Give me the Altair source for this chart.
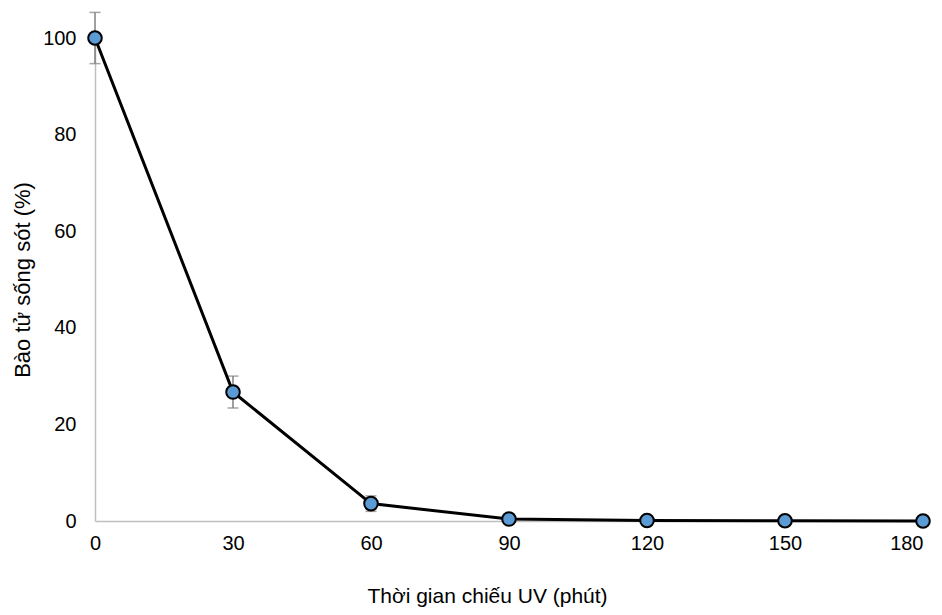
import altair as alt
import pandas as pd

minutes = [0, 30, 60, 90, 120, 150, 180]
survival = [100, 26.7, 3.6, 0.4, 0.1, 0.05, 0.0]
err = [5.3, 3.3, 1.6, 0.0, 0.0, 0.0, 0.0]

df = pd.DataFrame({"t": minutes, "s": survival, "e": err})
df["lo"] = df["s"] - df["e"]
df["hi"] = df["s"] + df["e"]
eb = df[df["e"] > 0]

FONT = "Liberation Sans"
FS = 20
x = alt.X("t:Q", scale=alt.Scale(domain=[0, 180], nice=False),
          axis=alt.Axis(values=minutes, title="Thời gian chiếu UV (phút)", grid=False, ticks=False,
                        domainColor="#bfbfbf", domainWidth=1.5, labelPadding=12, titlePadding=32,
                        titleX=392, titleAlign="center", labelFlush=False, labelOverlap=False,
                        labelAlign={"expr": "datum.value == 180 ? 'right' : 'center'"},
                        labelFontSize=FS, titleFontSize=21, labelFont=FONT, titleFont=FONT,
                        titleFontWeight="normal", labelColor="#000", titleColor="#000"))
y = alt.Y("s:Q", scale=alt.Scale(domain=[0, 100], nice=False),
          axis=alt.Axis(values=[0, 20, 40, 60, 80, 100], title="Bào tử sống sót (%)", grid=False, ticks=False,
                        domainColor="#bfbfbf", domainWidth=1.5, labelPadding=19, titlePadding=8,
                        labelFlush=False,
                        labelFontSize=FS, titleFontSize=22, labelFont=FONT, titleFont=FONT,
                        titleFontWeight="normal", labelColor="#000", titleColor="#000"))

base = alt.Chart(df)
rules = alt.Chart(eb).mark_rule(color="#7f7f7f", strokeWidth=1.5, clip=False).encode(
    x="t:Q", y="lo:Q", y2="hi:Q")
caps_hi = alt.Chart(eb).mark_tick(color="#7f7f7f", size=11, thickness=1.5, orient="horizontal", clip=False).encode(
    x="t:Q", y="hi:Q")
caps_lo = alt.Chart(eb).mark_tick(color="#7f7f7f", size=11, thickness=1.5, orient="horizontal", clip=False).encode(
    x="t:Q", y="lo:Q")
line = base.mark_line(color="#000", strokeWidth=3, clip=False).encode(x=x, y=y)
pts = base.mark_point(filled=True, fill="#5B9BD5", stroke="#000", strokeWidth=2, size=185, opacity=1,
                      clip=False).encode(x="t:Q", y="s:Q")

chart = alt.layer(rules, caps_hi, caps_lo, line, pts).properties(
    width=828, height=483,
    autosize=alt.AutoSizeParams(type="none"),
    padding={"left": 87, "top": 30, "right": 11, "bottom": 86},
).configure(background="white").configure_view(strokeWidth=0, stroke="transparent")

chart.save("out.html", embed_options={"renderer": "svg", "actions": False})
